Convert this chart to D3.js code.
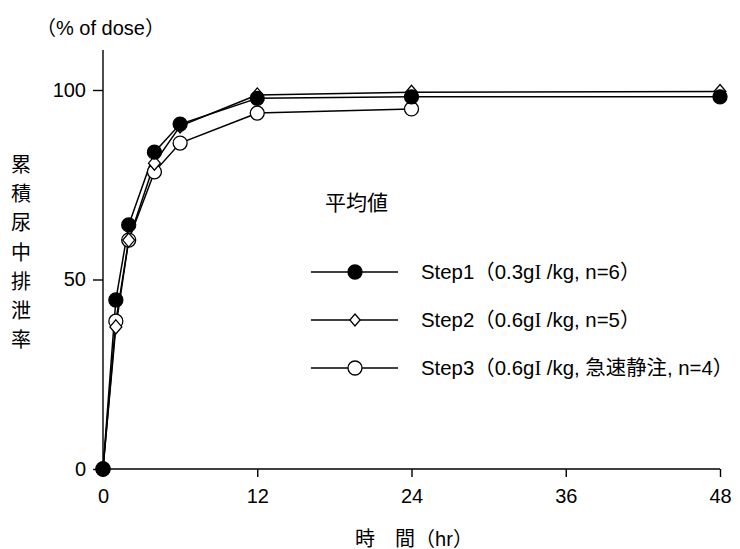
<!DOCTYPE html>
<html>
<head>
<meta charset="utf-8">
<script src="https://cdn.jsdelivr.net/npm/d3@7"></script>
<style>
  body { margin: 0; background: #fff; }
  svg text { font-family: "Liberation Sans", Arial, "Noto Sans CJK JP", sans-serif; fill: #000; }
</style>
</head>
<body>
<div id="chart"></div>
<script>
const hours = [0, 1, 2, 4, 6, 12, 24, 48];
const step1 = [0, 44.6, 64.4, 83.6, 91.0, 97.8, 98.2, 98.2];
const step2 = [0, 37.5, 60.4, 80.7, 90.5, 98.7, 99.4, 99.6];
const step3 = [0, 39.0, 60.4, 78.4, 86.0, 93.9, 95.0];
const seriesNames = [
    'Step1（0.3gI /kg, n=6）',
    'Step2（0.6gI /kg, n=5）',
    'Step3（0.6gI /kg, 急速静注, n=4）',
];
const seriesMarkers = ['filled', 'diamond', 'open'];
const xTicks = [0, 12, 24, 36, 48];
const yTicks = [0, 50, 100];
const yLabelChars = ['累', '積', '尿', '中', '排', '泄', '率'];

const width = 740;
const height = 549;
const axisTop = 50;

const x = d3.scaleLinear().domain([0, 48]).range([103, 720]);
const y = d3.scaleLinear().domain([0, 100]).range([469, 90]);

const svg = d3.select('#chart').append('svg')
    .attr('width', width)
    .attr('height', height);

// axes
const xAxis = svg.append('g')
    .attr('transform', `translate(0,${y(0)})`)
    .call(d3.axisBottom(x).tickValues(xTicks).tickSize(8).tickPadding(10));
const yAxis = svg.append('g')
    .attr('transform', `translate(${x(0)},0)`)
    .call(d3.axisLeft(y).tickValues(yTicks).tickSize(10).tickPadding(7));

[xAxis, yAxis].forEach((ax) => {
    ax.select('.domain').remove();
    ax.selectAll('line').attr('stroke', '#000').attr('stroke-width', 1.4);
    ax.selectAll('text').style('font-size', '20px');
});
xAxis.selectAll('text').attr('dy', '0.8em');

// spines
svg.append('line')
    .attr('x1', x(0)).attr('x2', x(0))
    .attr('y1', axisTop).attr('y2', y(0) + 8)
    .attr('stroke', '#000').attr('stroke-width', 1.4);
svg.append('line')
    .attr('x1', x(0)).attr('x2', x(48))
    .attr('y1', y(0)).attr('y2', y(0))
    .attr('stroke', '#000').attr('stroke-width', 1.4);

// labels
svg.append('text')
    .attr('x', 36).attr('y', 35)
    .style('font-size', '20px')
    .text('（% of dose）');

svg.append('g').selectAll('text')
    .data(yLabelChars)
    .enter().append('text')
    .attr('x', 21)
    .attr('y', (d, i) => 165 + i * 29.2)
    .attr('dy', '0.35em')
    .attr('text-anchor', 'middle')
    .style('font-size', '20px')
    .text(d => d);

svg.append('text')
    .attr('x', 414).attr('y', 546)
    .attr('text-anchor', 'middle')
    .style('font-size', '20px')
    .text('時　間（hr）');

function drawMarker(g, type, r) {
    if (type === 'diamond') {
        g.append('path')
            .attr('d', `M0,${-r}L${r * 0.85},0L0,${r}L${-r * 0.85},0Z`)
            .attr('fill', '#fff').attr('stroke', '#000').attr('stroke-width', 1.3);
    } else {
        g.append('circle')
            .attr('r', r)
            .attr('fill', type === 'filled' ? '#000' : '#fff')
            .attr('stroke', '#000').attr('stroke-width', 1.3);
    }
}

const line = d3.line().x(d => x(d[0])).y(d => y(d[1]));
const allSeries = [step1, step2, step3];

// step1 drawn last so it sits on top
[2, 1, 0].forEach((si) => {
    const pts = allSeries[si].map((v, i) => [hours[i], v]);
    svg.append('path')
        .datum(pts)
        .attr('d', line)
        .attr('fill', 'none')
        .attr('stroke', '#000')
        .attr('stroke-width', 1.5);
});
[2, 1, 0].forEach((si) => {
    allSeries[si].forEach((v, i) => {
        const g = svg.append('g').attr('transform', `translate(${x(hours[i])},${y(v)})`);
        drawMarker(g, seriesMarkers[si], 7);
    });
});

// legend
svg.append('text')
    .attr('x', 325).attr('y', 210)
    .style('font-size', '21px')
    .text('平均値');

const legendY = [272, 320, 368];
seriesNames.forEach((name, i) => {
    const g = svg.append('g').attr('transform', `translate(0,${legendY[i]})`);
    g.append('line')
        .attr('x1', 311).attr('x2', 398)
        .attr('stroke', '#000').attr('stroke-width', 1.5);
    const m = g.append('g').attr('transform', 'translate(355,0)');
    drawMarker(m, seriesMarkers[i], i === 1 ? 6 : 7);
    const t = g.append('text')
        .attr('x', 421).attr('dy', '0.35em')
        .style('font-size', '20.4px');
    // the "I" of gI is set in a serif face, as in the original
    name.split('I').forEach((part, k) => {
        if (k > 0) {
            t.append('tspan').style('font-family', '"Liberation Serif", serif').text('I');
        }
        t.append('tspan').text(part);
    });
});
</script>
</body>
</html>
